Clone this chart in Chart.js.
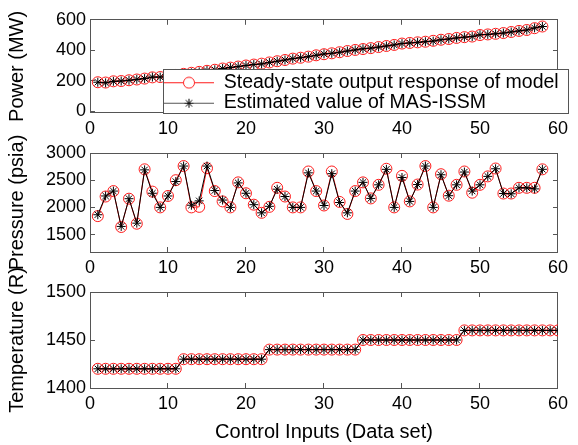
<!DOCTYPE html>
<html>
<head>
<meta charset="utf-8">
<script src="https://cdn.jsdelivr.net/npm/chart.js@4.4.0/dist/chart.umd.min.js"></script>
<style>
html, body { margin: 0; padding: 0; background: #fff; }
#wrap { position: relative; width: 578px; height: 445px; }
#wrap canvas { position: absolute; left: 0; top: 0; }
</style>
</head>
<body>
<div id="wrap">
  <canvas id="power" width="578" height="445"></canvas>
  <canvas id="pressure" width="578" height="445"></canvas>
  <canvas id="temp" width="578" height="445"></canvas>
</div>
<script>
// data
var inputs = [1, 2, 3, 4, 5, 6, 7, 8, 9, 10, 11, 12, 13, 14, 15, 16, 17, 18, 19, 20,
  21, 22, 23, 24, 25, 26, 27, 28, 29, 30, 31, 32, 33, 34, 35, 36, 37, 38, 39, 40,
  41, 42, 43, 44, 45, 46, 47, 48, 49, 50, 51, 52, 53, 54, 55, 56, 57, 58, 59, 60];

var powerModel = [190, 188, 196, 198, 203, 208, 214, 222, 224, 229, 238, 245, 252, 258, 265, 272, 280, 286, 293, 300,
  306, 312, 320, 328, 336, 345, 351, 358, 367, 374, 380, 387, 395, 402, 408, 414, 421, 428, 435, 444,
  448, 452, 456, 462, 469, 474, 481, 486, 490, 500, 504, 508, 513, 520, 527, 533, 545, 556];
var powerEst = [190, 186, 196, 198, 203, 209, 214, 224, 224, 229, 238, 245, 252, 258, 267, 272, 280, 287, 293, 300,
  306, 310, 320, 328, 336, 345, 351, 358, 367, 376, 380, 387, 395, 402, 410, 414, 421, 428, 435, 444,
  448, 452, 456, 460, 469, 474, 481, 486, 490, 502, 504, 508, 513, 520, 527, 533, 547, 556];

var pressureModel = [1840, 2200, 2300, 1640, 2160, 1700, 2700, 2290, 2000, 2210, 2500, 2760, 2000, 2010, 2720, 2300, 2110, 2000, 2460, 2260,
  2050, 1900, 2010, 2360, 2200, 2000, 2000, 2660, 2300, 2035, 2660, 2100, 1880, 2300, 2460, 2165, 2415, 2710, 2000, 2580,
  2110, 2420, 2760, 2000, 2610, 2215, 2415, 2660, 2270, 2415, 2570, 2715, 2255, 2255, 2360, 2360, 2360, 2700];
var pressureEst = [1865, 2210, 2300, 1650, 2160, 1710, 2690, 2260, 2000, 2210, 2475, 2760, 2040, 2120, 2760, 2310, 2135, 2000, 2450, 2260,
  2050, 1900, 2020, 2335, 2200, 2000, 2000, 2635, 2300, 2035, 2620, 2090, 1900, 2300, 2460, 2165, 2415, 2700, 2000, 2550,
  2110, 2420, 2760, 2000, 2600, 2215, 2415, 2650, 2300, 2415, 2570, 2710, 2255, 2250, 2360, 2360, 2340, 2700];

var tempModel = [1420, 1420, 1420, 1420, 1420, 1420, 1420, 1420, 1420, 1420, 1420, 1430, 1430, 1430, 1430, 1430, 1430, 1430, 1430, 1430,
  1430, 1430, 1440, 1440, 1440, 1440, 1440, 1440, 1440, 1440, 1440, 1440, 1440, 1440, 1450, 1450, 1450, 1450, 1450, 1450,
  1450, 1450, 1450, 1450, 1450, 1450, 1450, 1460, 1460, 1460, 1460, 1460, 1460, 1460, 1460, 1460, 1460, 1460, 1460, 1460];
var tempEst = [1420, 1420, 1420, 1420, 1420, 1420, 1420, 1420, 1420, 1420, 1420, 1430, 1430, 1430, 1430, 1430, 1430, 1430, 1430, 1430,
  1430, 1430, 1440, 1440, 1440, 1440, 1440, 1440, 1440, 1440, 1440, 1440, 1440, 1440, 1450, 1450, 1450, 1450, 1450, 1450,
  1450, 1450, 1450, 1450, 1450, 1450, 1450, 1460, 1460, 1460, 1460, 1460, 1460, 1460, 1460, 1460, 1460, 1460, 1460, 1460];

var xTicks = [0, 10, 20, 30, 40, 50, 60];
var powerTicks = [0, 200, 400, 600];
var pressureTicks = [1500, 2000, 2500, 3000];
var tempTicks = [1400, 1450, 1500];
var seriesNames = ["Steady-state output response of model", "Estimated value of MAS-ISSM"];

Chart.defaults.font.family = "'Liberation Sans', Arial, Helvetica, sans-serif";
Chart.defaults.font.size = 18;
Chart.defaults.color = "#000";

var RED = "#ff1a1a";
var AXIS = "#555";

function pts(ys) {
  return ys.map(function(y, i) { return { x: inputs[i], y: y }; });
}

function setTicks(list) {
  return function(scale) {
    scale.ticks = list.map(function(v) { return { value: v }; });
  };
}

// little line+marker samples for the legend, like matlab draws them
function legendIcon(color, lineColor, marker) {
  var c = document.createElement("canvas");
  c.width = 50;
  c.height = 14;
  var g = c.getContext("2d");
  g.strokeStyle = lineColor;
  g.lineWidth = 1;
  g.beginPath();
  g.moveTo(0, 7.5);
  g.lineTo(50, 7.5);
  g.stroke();
  g.strokeStyle = color;
  if (marker === "circle") {
    g.fillStyle = "#fff";
    g.beginPath();
    g.arc(25, 7.5, 5.5, 0, Math.PI * 2);
    g.fill();
    g.stroke();
  } else {
    g.beginPath();
    for (var k = 0; k < 4; k++) {
      var a = k * Math.PI / 4;
      g.moveTo(25 - Math.cos(a) * 4.5, 7.5 - Math.sin(a) * 4.5);
      g.lineTo(25 + Math.cos(a) * 4.5, 7.5 + Math.sin(a) * 4.5);
    }
    g.stroke();
  }
  return c;
}
var legendIcons = [legendIcon(RED, RED, "circle"), legendIcon("#000", "#555", "star")];

// legend box sitting inside the top plot, lower right
var legendBox = { left: 163, top: 69, right: 568, bottom: 113 };
var insetLegend = {
  id: "insetLegend",
  afterInit: function(chart) {
    var lg = chart.legend;
    var fit = lg.fit;
    lg.fit = function() {
      fit.call(this);
      this.width = 0;
      this.height = 0;
    };
  },
  afterUpdate: function(chart) {
    var lg = chart.legend;
    lg.left = legendBox.left;
    lg.right = legendBox.right;
    lg.top = legendBox.top + 2.5;
    lg.bottom = legendBox.bottom + 12;
    lg.width = lg.right - lg.left;
    lg.height = lg.bottom - lg.top;
    lg.adjustHitBoxes();
  },
  afterDatasetsDraw: function(chart) {
    var ctx = chart.ctx;
    ctx.save();
    ctx.fillStyle = "#fff";
    ctx.fillRect(legendBox.left, legendBox.top, legendBox.right - legendBox.left, legendBox.bottom - legendBox.top);
    ctx.strokeStyle = AXIS;
    ctx.lineWidth = 1;
    ctx.strokeRect(legendBox.left + 0.5, legendBox.top + 0.5, legendBox.right - legendBox.left, legendBox.bottom - legendBox.top);
    ctx.restore();
    chart.legend.draw();
  }
};

function makeChart(id, model, est, yMin, yMax, yTicks, yTitle, area) {
  var withLegend = id === "power";
  var grid = { drawOnChartArea: false, drawTicks: true, tickLength: -5, color: AXIS };
  var border = { display: true, color: AXIS, width: 1 };
  var numLabel = function(v) { return String(v); };

  return new Chart(document.getElementById(id), {
    type: "line",
    data: {
      datasets: [
        {
          label: seriesNames[0],
          data: pts(model),
          borderColor: RED,
          borderWidth: 1,
          pointStyle: "circle",
          pointRadius: 5.5,
          pointBorderColor: RED,
          pointBackgroundColor: "rgba(0,0,0,0)",
          pointBorderWidth: 1,
          tension: 0,
          order: 1
        },
        {
          label: seriesNames[1],
          data: pts(est),
          borderColor: "#000",
          borderWidth: 1,
          pointStyle: "star",
          pointRadius: 4.5,
          pointBorderColor: "#000",
          pointBorderWidth: 1,
          tension: 0,
          order: 0
        }
      ]
    },
    options: {
      responsive: false,
      maintainAspectRatio: false,
      animation: false,
      events: [],
      layout: { padding: { left: 0, right: 10, top: area.top, bottom: area.padBottom } },
      plugins: {
        tooltip: { enabled: false },
        legend: {
          display: withLegend,
          position: "right",
          align: "start",
          labels: {
            usePointStyle: true,
            pointStyleWidth: 50,
            padding: 1,
            color: "#000",
            font: { size: 19.5 },
            generateLabels: function(chart) {
              return chart.data.datasets.map(function(ds, i) {
                return {
                  text: ds.label,
                  pointStyle: legendIcons[i],
                  datasetIndex: i,
                  fillStyle: ds.borderColor,
                  strokeStyle: ds.borderColor,
                  lineWidth: 0,
                  hidden: false
                };
              });
            }
          }
        }
      },
      scales: {
        x: {
          type: "linear",
          position: "bottom",
          min: 0,
          max: 60,
          afterBuildTicks: setTicks(xTicks),
          grid: grid,
          border: border,
          ticks: { padding: 10, maxRotation: 0, autoSkip: false, callback: numLabel },
          title: {
            display: !!area.xTitle,
            text: area.xTitle || "",
            font: { size: 20 },
            padding: { top: 0, bottom: 1 }
          },
          afterFit: function(s) { s.height = area.xHeight; }
        },
        x2: {
          type: "linear",
          position: "top",
          min: 0,
          max: 60,
          afterBuildTicks: setTicks(xTicks),
          grid: grid,
          border: border,
          ticks: { display: false },
          afterFit: function(s) { s.height = 0; }
        },
        y: {
          type: "linear",
          position: "left",
          min: yMin,
          max: yMax,
          afterBuildTicks: setTicks(yTicks),
          grid: grid,
          border: border,
          ticks: { padding: 9, callback: numLabel },
          title: { display: true, text: yTitle, font: { size: 20 }, padding: { top: 5, bottom: 0 } },
          afterFit: function(s) { s.width = 90; }
        },
        y2: {
          type: "linear",
          position: "right",
          min: yMin,
          max: yMax,
          afterBuildTicks: setTicks(yTicks),
          grid: grid,
          border: border,
          ticks: { display: false },
          afterFit: function(s) { s.width = 0; }
        }
      }
    },
    plugins: withLegend ? [insetLegend] : []
  });
}

makeChart("power", powerModel, powerEst, -12, 600, powerTicks, "Power (MW)",
  { top: 15, padBottom: 302, xHeight: 30 });
makeChart("pressure", pressureModel, pressureEst, 1180, 3000, pressureTicks, "Pressure (psia)",
  { top: 153, padBottom: 163, xHeight: 30 });
makeChart("temp", tempModel, tempEst, 1400, 1500, tempTicks, "Temperature (R)",
  { top: 292, padBottom: 0, xHeight: 57, xTitle: "Control Inputs (Data set)" });
</script>
</body>
</html>
